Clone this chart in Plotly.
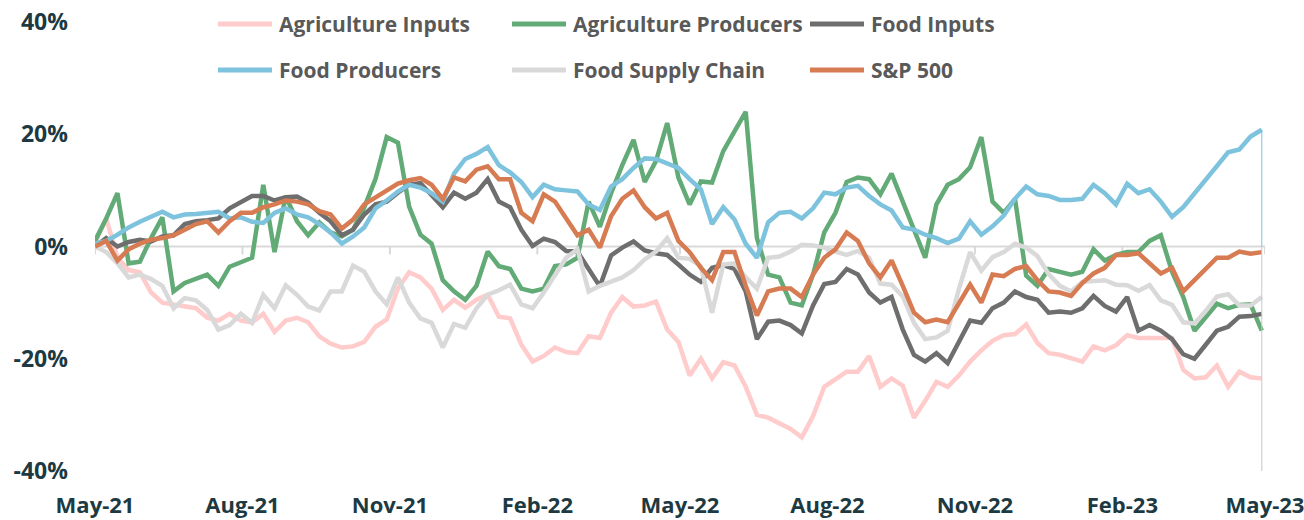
import pandas as pd
import plotly.graph_objects as go

# ---------------- data (weekly readings, % change) ----------------
DATES = pd.date_range("2021-05-01", periods=105, freq="7D")

AG_INPUTS = [
    0.5, 5.0, -2.0, -4.2, -4.6, -8.2, -10.0, -10.4, -10.8, -11.0,
    -12.7, -13.2, -12.0, -13.2, -13.5, -12.0, -15.2, -13.2, -12.7, -13.5,
    -16.0, -17.3, -18.0, -17.8, -17.0, -14.3, -13.0, -7.5, -4.6, -5.5,
    -7.5, -11.3, -9.5, -10.9, -9.5, -8.6, -12.5, -12.8, -17.5, -20.5,
    -19.5, -18.0, -18.8, -19.0, -16.0, -16.3, -11.8, -9.0, -10.7, -10.5,
    -9.8, -14.8, -17.0, -23.0, -20.0, -23.5, -20.6, -21.2, -25.0, -30.0,
    -30.5, -31.5, -32.5, -34.0, -30.2, -25.0, -23.6, -22.3, -22.3, -19.5,
    -25.0, -23.5, -24.8, -30.5, -27.5, -24.1, -25.0, -23.0, -20.5, -18.5,
    -16.8, -15.8, -15.6, -13.9, -17.2, -19.0, -19.3, -19.8, -20.5, -17.8,
    -18.5, -17.6, -15.8, -16.3, -16.3, -16.2, -16.3, -22.0, -23.5, -23.3,
    -21.2, -25.0, -22.3, -23.3, -23.5,
]

AG_PRODUCERS = [
    1.0, 5.0, 9.5, -3.0, -2.7, 1.5, 5.2, -8.0, -6.5, -5.8,
    -5.0, -7.0, -3.6, -2.8, -2.0, 11.0, -1.0, 9.0, 4.5, 2.0,
    4.3, 2.5, 1.8, 3.0, 7.0, 12.0, 19.5, 18.5, 7.1, 2.1,
    0.5, -6.0, -8.0, -9.5, -7.0, -0.9, -3.5, -4.0, -7.5, -8.0,
    -7.5, -3.5, -3.2, -2.0, 8.0, 3.5, 9.5, 14.5, 19.0, 11.5,
    15.2, 22.0, 12.3, 7.5, 11.6, 11.4, 17.0, 20.5, 24.0, 1.5,
    -5.0, -5.5, -10.0, -10.5, -5.0, 2.5, 6.0, 11.5, 12.3, 12.0,
    9.3, 13.0, 8.0, 3.0, -2.0, 7.5, 11.0, 12.0, 14.1, 19.5,
    8.0, 6.0, 8.5, -5.2, -7.0, -4.0, -4.5, -5.0, -4.5, -0.5,
    -2.5, -1.5, -1.0, -1.0, 1.0, 2.0, -4.5, -9.0, -15.0, -12.5,
    -10.2, -11.0, -10.4, -10.3, -15.0,
]

FOOD_INPUTS = [
    0.0, 1.5, 0.0, 0.8, 1.2, 0.9, 1.8, 2.0, 4.0, 4.5,
    4.7, 5.0, 6.8, 8.0, 9.0, 9.0, 8.2, 8.8, 8.9, 7.8,
    6.0, 4.5, 2.0, 3.0, 5.7, 7.5, 8.0, 9.6, 11.0, 11.3,
    9.0, 7.0, 9.6, 8.5, 9.6, 12.0, 8.0, 7.0, 3.0, 0.1,
    1.4, 0.8, -0.8, -0.9, -4.0, -7.1, -1.6, -0.2, 0.9, -0.7,
    -1.2, -1.5, -3.2, -5.0, -6.3, -3.8, -3.3, -4.0, -8.0, -16.5,
    -13.4, -13.2, -14.0, -15.5, -10.5, -6.7, -6.3, -4.0, -5.0, -8.2,
    -10.0, -9.0, -14.8, -19.3, -20.5, -19.0, -20.8, -17.0, -13.2, -13.6,
    -11.0, -10.0, -8.0, -9.0, -9.5, -11.8, -11.6, -11.8, -11.0, -8.8,
    -10.6, -11.6, -9.0, -15.0, -14.0, -15.0, -16.5, -19.2, -20.0, -17.5,
    -15.0, -14.3, -12.5, -12.4, -12.0,
]

FOOD_PRODUCERS = [
    0.5, 1.0, 2.1, 3.4, 4.4, 5.2, 6.2, 5.2, 5.7, 5.8,
    6.0, 6.2, 5.0, 5.2, 4.4, 4.2, 6.0, 6.8, 5.7, 5.2,
    4.0, 2.5, 0.5, 1.8, 3.4, 6.8, 8.2, 9.8, 11.0, 10.5,
    9.5, 8.0, 13.0, 15.6, 16.5, 17.7, 14.5, 13.2, 11.5, 8.8,
    11.0, 10.2, 10.0, 9.8, 7.5, 6.5, 10.7, 12.0, 14.0, 15.7,
    15.6, 14.8, 14.0, 12.0, 10.2, 4.0, 7.0, 4.8, 0.5, -2.0,
    4.3, 6.0, 6.2, 5.0, 6.8, 9.6, 9.3, 10.5, 10.8, 9.0,
    7.5, 6.4, 3.4, 3.0, 2.1, 1.5, 0.6, 1.4, 4.5, 2.1,
    3.6, 5.5, 8.5, 10.7, 9.3, 9.0, 8.3, 8.3, 8.5, 11.0,
    9.5, 7.5, 11.2, 9.5, 10.2, 8.0, 5.3, 7.0, 9.5, 12.0,
    14.2, 16.8, 17.3, 19.6, 20.8,
]

FOOD_SUPPLY_CHAIN = [
    0.0, -1.0, -3.0, -5.5, -5.0, -5.8, -7.0, -11.0, -9.2, -9.6,
    -11.3, -14.8, -14.0, -12.0, -13.6, -8.6, -11.0, -6.9, -8.6, -10.7,
    -11.4, -8.0, -8.0, -3.4, -4.5, -8.0, -10.3, -5.5, -10.0, -12.8,
    -13.6, -18.0, -13.8, -14.5, -11.0, -8.6, -7.8, -6.8, -10.3, -11.0,
    -8.2, -5.0, -2.0, -0.5, -8.0, -7.0, -6.3, -5.5, -4.2, -2.3,
    -0.9, 1.5, -2.0, -2.2, -3.5, -11.8, -3.2, -3.0, -5.5, -7.5,
    -2.0, -1.8, -0.9, 0.3, 0.2, -0.2, -0.9, -1.5, -0.8, -2.0,
    -6.6, -6.8, -8.9, -13.6, -16.5, -16.2, -15.0, -7.6, -1.0, -4.3,
    -1.9, -1.0, 0.5, -0.2, -1.7, -4.9, -7.0, -8.0, -6.3, -6.1,
    -6.0, -6.8, -6.9, -7.9, -6.9, -9.6, -10.4, -13.5, -13.7, -11.5,
    -8.9, -8.5, -10.5, -10.5, -9.0,
]

SP500 = [
    0.0, 1.0, -2.5, -0.5, 0.5, 1.2, 1.5, 2.0, 3.0, 4.0,
    4.5, 2.5, 4.5, 6.0, 6.0, 7.0, 7.5, 8.2, 8.0, 7.5,
    6.3, 5.7, 3.2, 4.8, 7.5, 8.7, 9.8, 11.2, 11.8, 12.2,
    11.0, 8.5, 12.3, 11.6, 13.7, 14.3, 12.0, 12.0, 6.0, 4.5,
    9.3, 8.0, 5.0, 2.0, 3.0, -0.2, 5.4, 8.5, 10.0, 7.0,
    5.0, 6.0, 1.0, -1.0, -3.8, -6.0, -1.0, -1.0, -7.0, -12.3,
    -8.0, -7.5, -7.5, -9.0, -5.0, -2.0, -0.5, 2.5, 1.0, -3.0,
    -5.5, -2.5, -7.0, -11.8, -13.5, -13.0, -13.5, -10.0, -6.8, -10.0,
    -5.0, -5.3, -4.0, -3.5, -6.0, -8.0, -8.2, -8.8, -6.5, -4.8,
    -3.8, -1.5, -1.5, -1.2, -3.0, -4.8, -3.8, -8.0, -6.0, -4.0,
    -2.0, -2.0, -0.9, -1.3, -1.0,
]

SERIES_NAMES = ["Agriculture Inputs", "Agriculture Producers", "Food Inputs",
                "Food Producers", "Food Supply Chain", "S&P 500"]
SERIES_VALUES = [AG_INPUTS, AG_PRODUCERS, FOOD_INPUTS,
                 FOOD_PRODUCERS, FOOD_SUPPLY_CHAIN, SP500]

X_TICK_DATES = ["2021-05-01", "2021-08-01", "2021-11-01", "2022-02-01", "2022-05-01",
                "2022-08-01", "2022-11-01", "2023-02-01", "2023-05-01"]
X_TICK_LABELS = ["May-21", "Aug-21", "Nov-21", "Feb-22", "May-22",
                 "Aug-22", "Nov-22", "Feb-23", "May-23"]
Y_TICKS = [-40, -20, 0, 20, 40]
Y_TICK_LABELS = ["-40%", "-20%", "0%", "20%", "40%"]

# ---------------- style ----------------
COLORS = ["#FFCBCB", "#62AA76", "#6E6E6E", "#7DC3DD", "#D9D9D9", "#D77B52"]
LINE_W = 4.5
FONT = "Open Sans"
TICK_COLOR = "#1D3A42"
LEGEND_TEXT_COLOR = "#595959"

W, H = 1304, 520
L, R, T, B = 95, 39, 22, 49
PW, PH = W - L - R, H - T - B


def px(x):
    return (x - L) / PW


def py(y):
    return (H - B - y) / PH


fig = go.Figure()
for name, vals, color in zip(SERIES_NAMES, SERIES_VALUES, COLORS):
    fig.add_trace(go.Scatter(
        x=DATES, y=vals, mode="lines", name=name,
        line=dict(color=color, width=LINE_W, shape="linear"),
        showlegend=False, hoverinfo="x+y+name",
    ))

shapes = []
# zero line acting as the axis line
shapes.append(dict(type="line", xref="paper", yref="y", x0=0, x1=1, y0=0, y1=0,
                   line=dict(color="#D9D9D9", width=2), layer="below"))
# small downward ticks on the zero line
for d in X_TICK_DATES:
    shapes.append(dict(type="line", xref="x", yref="y", x0=d, x1=d, y0=0, y1=-1.4,
                       line=dict(color="#D9D9D9", width=2), layer="below"))
# thin vertical line at the last date
shapes.append(dict(type="line", xref="x", yref="y", x0=DATES[-1], x1=DATES[-1],
                   y0=0, y1=FOOD_PRODUCERS[-1], line=dict(color="#7DC3DD", width=1)))
shapes.append(dict(type="line", xref="x", yref="y", x0=DATES[-1], x1=DATES[-1],
                   y0=-40, y1=0, line=dict(color="#C8C8C8", width=1)))

# manual legend (3 columns x 2 rows)
LEG_COL_X = [218, 512, 810]
LEG_ROW_Y = [24, 70]
SAMPLE_LEN = 54
TEXT_GAP = 59
annotations = []
for i, (name, color) in enumerate(zip(SERIES_NAMES, COLORS)):
    cx = LEG_COL_X[i % 3]
    cy = LEG_ROW_Y[i // 3]
    shapes.append(dict(type="line", xref="paper", yref="paper",
                       x0=px(cx), x1=px(cx + SAMPLE_LEN), y0=py(cy), y1=py(cy),
                       line=dict(color=color, width=5)))
    annotations.append(dict(xref="paper", yref="paper", x=px(cx + TEXT_GAP), y=py(cy),
                            xanchor="left", yanchor="middle", showarrow=False,
                            text=name,
                            font=dict(family=FONT, size=21, color=LEGEND_TEXT_COLOR,
                                      weight="bold")))

fig.update_layout(
    width=W, height=H,
    margin=dict(l=L, r=R, t=T, b=B, autoexpand=False),
    paper_bgcolor="white", plot_bgcolor="white",
    showlegend=False,
    shapes=shapes, annotations=annotations,
    xaxis=dict(type="date", range=["2021-05-01", "2023-05-01"],
               tickvals=X_TICK_DATES, ticktext=X_TICK_LABELS,
               showgrid=False, zeroline=False, showline=False, ticks="",
               ticklabelstandoff=19, automargin=False, ticklabeloverflow="allow",
               tickfont=dict(family=FONT, size=22, color=TICK_COLOR, weight="bold")),
    yaxis=dict(range=[-40, 40], tickvals=Y_TICKS, ticktext=Y_TICK_LABELS,
               showgrid=False, zeroline=False, showline=False, ticks="",
               ticklabelstandoff=26, automargin=False,
               tickfont=dict(family=FONT, size=23, color=TICK_COLOR, weight="bold")),
)

fig.write_html("out.html",
               config={"displayModeBar": False},
               post_script="document.body.style.margin='0px';document.body.style.padding='0px';")
